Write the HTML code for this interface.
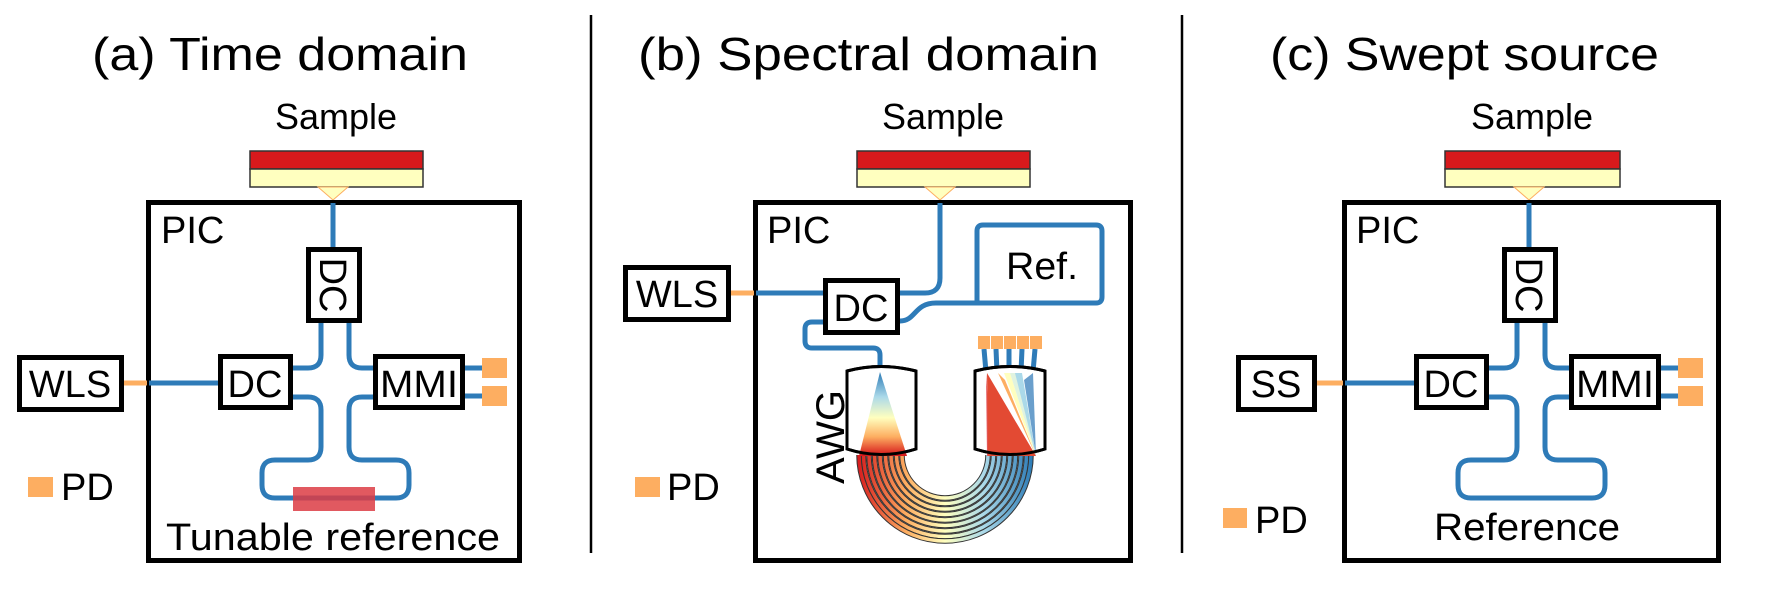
<!DOCTYPE html>
<html><head><meta charset="utf-8">
<style>
html,body{margin:0;padding:0;background:#fff;}
svg{display:block;font-family:"Liberation Sans",Arial,sans-serif;}
</style></head>
<body>
<svg width="1772" height="591" viewBox="0 0 1772 591" xmlns="http://www.w3.org/2000/svg">
<defs>
  <linearGradient id="arcGrad" gradientUnits="userSpaceOnUse" x1="857" y1="0" x2="1033" y2="0">
    <stop offset="0" stop-color="#d7191c"/>
    <stop offset="0.28" stop-color="#fdae61"/>
    <stop offset="0.5" stop-color="#ffffbf"/>
    <stop offset="0.72" stop-color="#abd9e9"/>
    <stop offset="1" stop-color="#2c7bb6"/>
  </linearGradient>
  <linearGradient id="fanGrad" gradientUnits="userSpaceOnUse" x1="0" y1="372" x2="0" y2="455">
    <stop offset="0" stop-color="#2c7bb6"/>
    <stop offset="0.3" stop-color="#abd9e9"/>
    <stop offset="0.55" stop-color="#ffffbf"/>
    <stop offset="0.78" stop-color="#fdae61"/>
    <stop offset="1" stop-color="#d7191c"/>
  </linearGradient>
</defs>

<line x1="591" y1="15" x2="591" y2="553" stroke="#000" stroke-width="2.5"/>
<line x1="1182" y1="15" x2="1182" y2="553" stroke="#000" stroke-width="2.5"/>

<text x="92" y="70" font-size="46" textLength="376" lengthAdjust="spacingAndGlyphs">(a)  Time domain</text>
<text x="638" y="70" font-size="46" textLength="461" lengthAdjust="spacingAndGlyphs">(b)  Spectral domain</text>
<text x="1270" y="70" font-size="46" textLength="389" lengthAdjust="spacingAndGlyphs">(c)  Swept source</text>

<!-- Panel A -->
<g>
  <text x="336" y="129" font-size="36" text-anchor="middle">Sample</text>
  <g>
    <rect x="250" y="151" width="173" height="18" fill="#d7191c" stroke="#333" stroke-width="1.5"/>
    <rect x="250" y="169" width="173" height="18" fill="#ffffbf" stroke="#333" stroke-width="1.5"/>
    <polygon points="318,187 348,187 333,200" fill="#ffffbf" stroke="#fdae61" stroke-width="1"/>
  </g>
  <rect x="148.5" y="202.5" width="371" height="358" fill="none" stroke="#000" stroke-width="5"/>
  <text x="161" y="243" font-size="38">PIC</text>
  <g fill="none" stroke="#2e7bb8" stroke-width="5">
    <line x1="333" y1="203" x2="333" y2="247"/>
    <path d="M293,368 L308,368 Q321,368 321,355 L321,323"/>
    <path d="M373,368 L362,368 Q349,368 349,355 L349,323"/>
    <path d="M293,397 L308,397 Q321,397 321,410 L321,447 Q321,460 308,460 L275,460 Q262,460 262,473 L262,485 Q262,498 275,498 L396,498 Q409,498 409,485 L409,473 Q409,460 396,460 L362,460 Q349,460 349,447 L349,410 Q349,397 362,397 L373,397"/>
    <line x1="149" y1="383" x2="218" y2="383"/>
    <line x1="465" y1="368" x2="482" y2="368"/>
    <line x1="465" y1="396" x2="482" y2="396"/>
  </g>
  <line x1="124" y1="383" x2="147" y2="383" stroke="#fdae61" stroke-width="5"/>
  <rect x="293" y="487" width="82" height="24" fill="#dc3c44" opacity="0.85"/>
  <rect x="19.5" y="357.5" width="102" height="52" fill="#fff" stroke="#000" stroke-width="5"/>
  <text x="70" y="397" font-size="38" text-anchor="middle">WLS</text>
  <rect x="220.5" y="356.5" width="70" height="51" fill="#fff" stroke="#000" stroke-width="5"/>
  <text x="255" y="397" font-size="38" text-anchor="middle">DC</text>
  <rect x="308.5" y="249.5" width="51" height="71" fill="#fff" stroke="#000" stroke-width="5"/>
  <text transform="translate(320,285) rotate(90)" font-size="38" text-anchor="middle">DC</text>
  <rect x="375.5" y="356.5" width="87" height="51" fill="#fff" stroke="#000" stroke-width="5"/>
  <text x="419" y="397" font-size="38" text-anchor="middle" textLength="78" lengthAdjust="spacingAndGlyphs">MMI</text>
  <rect x="482" y="358" width="25" height="20" fill="#fdae61"/>
  <rect x="482" y="386" width="25" height="20" fill="#fdae61"/>
  <text x="333" y="550" font-size="38" text-anchor="middle" textLength="334" lengthAdjust="spacingAndGlyphs">Tunable reference</text>
  <rect x="28" y="477" width="25" height="20" fill="#fdae61"/>
  <text x="61" y="500" font-size="38">PD</text>
</g>

<!-- Panel B -->
<g>
  <text x="943" y="129" font-size="36" text-anchor="middle">Sample</text>
  <g>
    <rect x="857" y="151" width="173" height="18" fill="#d7191c" stroke="#333" stroke-width="1.5"/>
    <rect x="857" y="169" width="173" height="18" fill="#ffffbf" stroke="#333" stroke-width="1.5"/>
    <polygon points="925,187 955,187 940,200" fill="#ffffbf" stroke="#fdae61" stroke-width="1"/>
  </g>
  <rect x="755.5" y="202.5" width="375" height="358" fill="none" stroke="#000" stroke-width="5"/>
  <text x="767" y="243" font-size="38">PIC</text>
  <g fill="none" stroke="#2e7bb8" stroke-width="5">
    <line x1="756" y1="293" x2="823" y2="293"/>
    <path d="M900,293 L925,293 Q940,293 940,278 L940,203"/>
    <path d="M900,321 C916,321 914,303 936,303 L1096,303 Q1102,303 1102,297 L1102,231 Q1102,225 1096,225 L983,225 Q977,225 977,231 L977,303"/>
    <path d="M823,322 L812,322 Q805,322 805,329 L805,341 Q805,348 812,348 L873,348 Q880,348 880,355 L880,372"/>
    <path d="M984,349 L986,372"/>
    <path d="M996,349 L997,372"/>
    <path d="M1009,349 L1009,372"/>
    <path d="M1022,349 L1021,372"/>
    <path d="M1035,349 L1033,372"/>
  </g>
  <line x1="731" y1="293" x2="754" y2="293" stroke="#fdae61" stroke-width="5"/>
  <rect x="625.5" y="267.5" width="103" height="52" fill="#fff" stroke="#000" stroke-width="5"/>
  <text x="677" y="307" font-size="38" text-anchor="middle">WLS</text>
  <rect x="825.5" y="280.5" width="72" height="52" fill="#fff" stroke="#000" stroke-width="5"/>
  <text x="861" y="321" font-size="38" text-anchor="middle">DC</text>
  <text x="1006" y="279" font-size="38" textLength="72" lengthAdjust="spacingAndGlyphs">Ref.</text>
  <g id="arcs"></g>
  <path d="M847,371 Q881,362 916,371 L916,449 Q881,460 847,449 Z" fill="#fff" stroke="#000" stroke-width="3"/>
  <polygon points="880,372 859,456 907,456" fill="url(#fanGrad)"/>
  <path d="M975,371 Q1010,362 1045,371 L1045,449 Q1010,460 975,449 Z" fill="#fff" stroke="#000" stroke-width="3"/>
  <g>
    <polygon points="986,373 987,456 992,456" fill="#e0474c" opacity="0.9"/>
    <polygon points="987,373 988,456 1036,456" fill="#e34a33"/>
    <polygon points="998,373 1036,456 1005,380" fill="#fdae61"/>
    <polygon points="1010,373 1036,456 1004,373" fill="#ffffbf"/>
    <polygon points="1010,373 1036,456 1017,373" fill="#e0f3e0"/>
    <polygon points="1022,373 1036,456 1015,373" fill="#abd9e9"/>
    <polygon points="1033,373 1036,456 1024,380" fill="#6a9fcc"/>
  </g>
  <path d="M847,371 Q881,362 916,371 M847,449 Q881,460 916,449" fill="none" stroke="#000" stroke-width="3"/>
  <path d="M975,371 Q1010,362 1045,371 M975,449 Q1010,460 1045,449" fill="none" stroke="#000" stroke-width="3"/>
  <g fill="#fdae61">
    <rect x="978" y="336" width="12" height="13"/>
    <rect x="991" y="336" width="12" height="13"/>
    <rect x="1004" y="336" width="12" height="13"/>
    <rect x="1017" y="336" width="12" height="13"/>
    <rect x="1030" y="336" width="12" height="13"/>
  </g>
  <text transform="translate(844,437) rotate(-90)" font-size="40" text-anchor="middle">AWG</text>
  <rect x="635" y="477" width="25" height="20" fill="#fdae61"/>
  <text x="667" y="500" font-size="38">PD</text>
</g>

<!-- Panel C -->
<g>
  <text x="1532" y="129" font-size="36" text-anchor="middle">Sample</text>
  <g>
    <rect x="1445" y="151" width="175" height="18" fill="#d7191c" stroke="#333" stroke-width="1.5"/>
    <rect x="1445" y="169" width="175" height="18" fill="#ffffbf" stroke="#333" stroke-width="1.5"/>
    <polygon points="1514,187 1544,187 1529,200" fill="#ffffbf" stroke="#fdae61" stroke-width="1"/>
  </g>
  <g transform="translate(1196,0)">
    <rect x="148.5" y="202.5" width="374" height="358" fill="none" stroke="#000" stroke-width="5"/>
    <text x="160" y="243" font-size="38">PIC</text>
    <g fill="none" stroke="#2e7bb8" stroke-width="5">
      <line x1="333" y1="203" x2="333" y2="247"/>
      <path d="M293,368 L308,368 Q321,368 321,355 L321,323"/>
      <path d="M373,368 L362,368 Q349,368 349,355 L349,323"/>
      <path d="M293,397 L308,397 Q321,397 321,410 L321,447 Q321,460 308,460 L275,460 Q262,460 262,473 L262,485 Q262,498 275,498 L396,498 Q409,498 409,485 L409,473 Q409,460 396,460 L362,460 Q349,460 349,447 L349,410 Q349,397 362,397 L373,397"/>
      <line x1="149" y1="383" x2="218" y2="383"/>
      <line x1="465" y1="368" x2="482" y2="368"/>
      <line x1="465" y1="396" x2="482" y2="396"/>
    </g>
    <line x1="121" y1="383" x2="147" y2="383" stroke="#fdae61" stroke-width="5"/>
    <rect x="42.5" y="357.5" width="76" height="52" fill="#fff" stroke="#000" stroke-width="5"/>
    <text x="80" y="397" font-size="38" text-anchor="middle">SS</text>
    <rect x="220.5" y="356.5" width="70" height="51" fill="#fff" stroke="#000" stroke-width="5"/>
    <text x="255" y="397" font-size="38" text-anchor="middle">DC</text>
    <rect x="308.5" y="249.5" width="51" height="71" fill="#fff" stroke="#000" stroke-width="5"/>
    <text transform="translate(320,285) rotate(90)" font-size="38" text-anchor="middle">DC</text>
    <rect x="375.5" y="356.5" width="87" height="51" fill="#fff" stroke="#000" stroke-width="5"/>
    <text x="419" y="397" font-size="38" text-anchor="middle" textLength="78" lengthAdjust="spacingAndGlyphs">MMI</text>
    <rect x="482" y="358" width="25" height="20" fill="#fdae61"/>
    <rect x="482" y="386" width="25" height="20" fill="#fdae61"/>
    <text x="331" y="540" font-size="38" text-anchor="middle" textLength="186" lengthAdjust="spacingAndGlyphs">Reference</text>
  </g>
  <rect x="1223" y="508" width="24" height="20" fill="#fdae61"/>
  <text x="1255" y="533" font-size="38">PD</text>
</g>

<script>
const armRadii = [43, 48.5, 54, 59.5, 65, 70.5, 76, 81.5, 86];
const cx = 945, cy = 455;
const g = document.getElementById('arcs');
armRadii.forEach(function(r){
  const d = 'M' + (cx - r) + ',' + cy + ' A' + r + ',' + r + ' 0 0 0 ' + (cx + r) + ',' + cy;
  const o = document.createElementNS('http://www.w3.org/2000/svg','path');
  o.setAttribute('d', d);
  o.setAttribute('fill','none');
  o.setAttribute('stroke','#333');
  o.setAttribute('stroke-width','5.5');
  
  
  g.appendChild(o);
  const p = document.createElementNS('http://www.w3.org/2000/svg','path');
  p.setAttribute('d', d);
  p.setAttribute('fill','none');
  p.setAttribute('stroke','url(#arcGrad)');
  p.setAttribute('stroke-width','3.5');
  
  
  g.appendChild(p);
});
</script>
</svg>
</body></html>
